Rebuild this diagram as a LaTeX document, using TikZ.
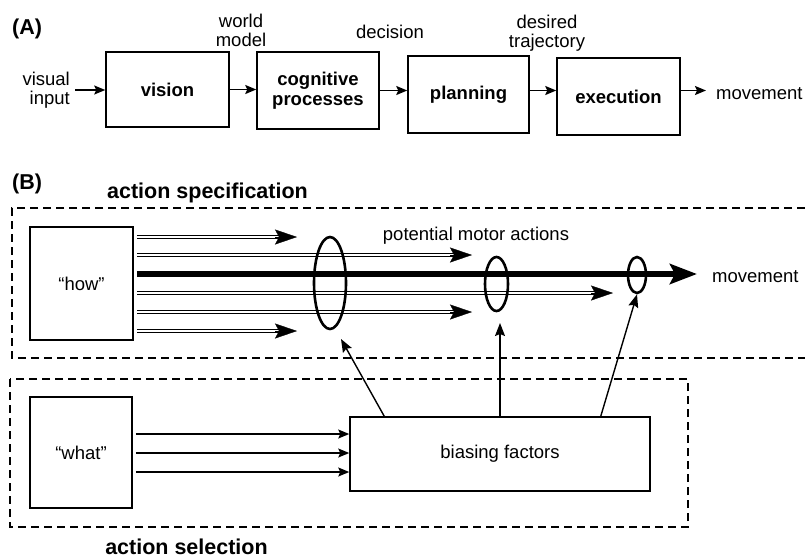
\documentclass[tikz,border=0pt]{standalone}
\usepackage{fontspec}
\setmainfont{Liberation Sans}
\usetikzlibrary{arrows.meta,shapes.geometric,calc}
\begin{document}
\begin{tikzpicture}[x=1pt,y=-1pt,
  lbl/.style={font=\fontsize{18.5}{19}\selectfont, inner sep=0pt},
  blbl/.style={font=\bfseries\fontsize{18.5}{20}\selectfont, inner sep=0pt},
  headtxt/.style={font=\bfseries\fontsize{21.5}{24}\selectfont, inner sep=0pt},
  box/.style={draw, line width=1.5pt, inner sep=0pt},
  arr/.style={line width=1.6pt, -{Stealth[length=11pt,width=9pt,inset=2pt]}},
  tarr/.style={line width=1.4pt, shorten <=3pt, -{Stealth[length=11pt,width=9pt,inset=2pt]}},
  carr/.style={line width=1.4pt, -{Stealth[length=13pt,width=10pt,inset=2pt]}},
  dbl/.style={double=white, double distance=1.4pt, line width=1.3pt, shorten <=3pt},
  dhead/.style={line width=0.3pt, -{Stealth[length=22pt,width=15pt,inset=4pt]}},
  thickarr/.style={line width=5.8pt, shorten <=3pt, -{Stealth[length=27pt,width=20pt,inset=5pt]}},
  ell/.style={ellipse, draw, line width=2.6pt, inner sep=0pt},
  dsh/.style={line width=1.8pt, dash pattern=on 8pt off 5pt}
]
\useasboundingbox (0,0) rectangle (805,558);

% ---------- Panel A ----------
\node[headtxt, anchor=base west] (labA) at (12,34) {(A)};
\node[lbl, align=right, anchor=east] (vin) at (70,90) {visual\\input};
\node[box, blbl, minimum width=123pt, minimum height=75pt] (vision) at (167.5,89.5) {vision};
\node[box, blbl, minimum width=122pt, minimum height=77pt, align=center] (cog) at (318,90.5) {cognitive\\processes};
\node[box, blbl, minimum width=121pt, minimum height=77pt] (plan) at (468.5,94.5) {planning};
\node[box, blbl, minimum width=123pt, minimum height=77pt] (exec) at (618.5,96.5) {execution};
\node[lbl, anchor=base west] (mov1) at (716,99) {movement};

\node[lbl, align=center] (wm) at (241,30) {world\\model};
\node[lbl, anchor=base] (dec) at (390,38.5) {decision};
\node[lbl, align=center] (dt) at (547,33) {desired\\trajectory};

\draw[arr, shorten <=5pt] (vin.east) -- (vin.east -| vision.west);
\draw[arr] (vision.east) -- (vision.east -| cog.west);
\draw[arr] (cog.east) -- (cog.east -| plan.west);
\draw[arr] ([yshift=4pt]plan.east) -- ([yshift=4pt]plan.east -| exec.west);
\draw[arr, shorten >=10pt] ([yshift=6pt]exec.east) -- ([yshift=6pt]exec.east -| mov1.west);

% ---------- Panel B ----------
\node[headtxt, anchor=base west] (labB) at (12,189) {(B)};
\node[headtxt, anchor=base] (spec) at (207.5,198) {action specification};
\draw[dsh] (805,208) -- (12,208) -- (12,358) -- (805,358);
\draw[dsh] (10,379) rectangle (688,527);
\node[headtxt, anchor=base] (sel) at (186.5,554) {action selection};

\node[box, lbl, minimum width=103pt, minimum height=113pt] (how) at (81.5,283.5) {“how”};

\coordinate (t1) at (297,237);
\coordinate (t2) at (472,255);
\coordinate (t3) at (697,274);
\coordinate (t4) at (613,293);
\coordinate (t5) at (472,312);
\coordinate (t6) at (297,331);

\foreach \t in {t1,t2,t4,t5,t6}{
  \draw[dbl] (how.east |- \t) -- ([xshift=-14pt]\t);
  \draw[dhead] ([xshift=-22pt]\t) -- (\t);
}
\draw[thickarr] (how.east |- t3) -- (t3);

\node[ell, minimum width=32pt, minimum height=92pt] (e1) at (330,283) {};
\node[ell, minimum width=23pt, minimum height=54pt] (e2) at (496.5,284) {};
\node[ell, minimum width=18pt, minimum height=36pt] (e3) at (637,275) {};

\node[lbl, anchor=base] (pma) at (476,240) {potential motor actions};
\node[lbl, anchor=base west] (mov2) at (712,282) {movement};

\node[box, lbl, minimum width=102pt, minimum height=111pt] (what) at (81,452.5) {“what”};
\node[box, lbl, minimum width=300pt, minimum height=74pt] (bias) at (500,454) {biasing factors};

\coordinate (w1) at ([yshift=20pt]bias.west);
\coordinate (w2) at ([yshift=1pt]bias.west);
\coordinate (w3) at ([yshift=-18pt]bias.west);
\foreach \w in {w1,w2,w3}{
  \draw[tarr] (what.east |- \w) -- (\w);
}

\coordinate (a1) at (341,339);
\coordinate (a2) at (500,323);
\draw[carr] ([xshift=35pt]bias.north west) -- (a1);
\draw[carr] (bias.north) -- (a2);
\draw[carr] ([xshift=-50pt]bias.north east) -- (e3.south);
\end{tikzpicture}
\end{document}
